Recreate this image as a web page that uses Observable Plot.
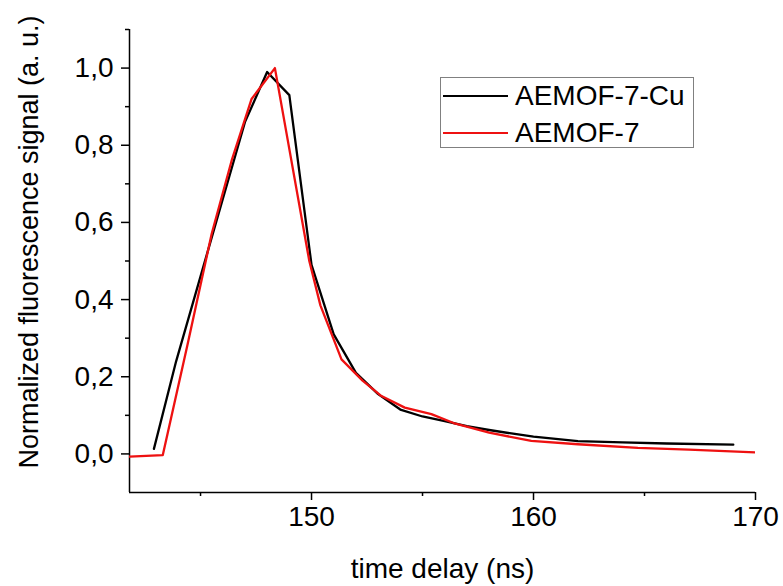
<!DOCTYPE html>
<html><head><meta charset="utf-8">
<script src="https://cdn.jsdelivr.net/npm/d3@7"></script>
<script src="https://cdn.jsdelivr.net/npm/@observablehq/plot@0.6"></script>
<style>
body{margin:0;background:#fff;}
#wrap{position:relative;width:783px;height:586px;}
#legend{position:absolute;left:440px;top:77px;width:254px;height:71px;border:1px solid #808080;box-sizing:border-box;font-family:"Liberation Sans",Arial,sans-serif;font-size:28px;color:#000;background:#fff;}
.row{position:absolute;left:0;height:32px;display:flex;align-items:center;white-space:nowrap;}
.sw{width:65px;height:2px;margin-left:2px;margin-right:7px;}
</style></head>
<body><div id="wrap"></div>
<script>
// Data
const cuTime   = [142.9, 143.9, 145, 146, 147, 148, 149, 150, 151, 152, 153, 154, 155, 156, 157, 158, 159, 160, 161, 162, 164, 166, 169];
const cuSignal = [0.013, 0.24, 0.46, 0.66, 0.86, 0.99, 0.93, 0.49, 0.31, 0.21, 0.155, 0.115, 0.097, 0.085, 0.072, 0.062, 0.053, 0.045, 0.039, 0.033, 0.03, 0.027, 0.024];
const redTime   = [141.8, 143.3, 144.4, 145.5, 146.4, 147.3, 148.35, 149.9, 150.4, 151.35, 152.3, 153.15, 154.2, 155.4, 156.4, 158, 159.9, 162, 164.7, 167, 170];
const redSignal = [-0.007, -0.003, 0.28, 0.57, 0.76, 0.92, 1.0, 0.5, 0.385, 0.245, 0.19, 0.15, 0.12, 0.103, 0.08, 0.055, 0.034, 0.025, 0.0155, 0.011, 0.004];
const seriesNames = ["AEMOF-7-Cu", "AEMOF-7"];
const seriesColors = ["#000000", "#ee1111"];
const xDomain = [141.8, 170];
const yDomain = [-0.1, 1.1];
const xMajor = [150, 160, 170];
const xMinor = [145, 155, 165];
const yMajor = [0, 0.2, 0.4, 0.6, 0.8, 1.0];
const yMinor = [0.1, 0.3, 0.5, 0.7, 0.9, 1.1];
const xLabel = "time delay (ns)";
const yLabel = "Normalized fluorescence signal (a. u.)";

const cuData = cuTime.map((t, i) => ({t, s: cuSignal[i]}));
const redData = redTime.map((t, i) => ({t, s: redSignal[i]}));
const fmt = d => d.toFixed(1).replace(".", ",");

const chart = Plot.plot({
  width: 783, height: 586,
  marginLeft: 129, marginRight: 28, marginTop: 29, marginBottom: 94,
  style: {fontFamily: "'Liberation Sans', Arial, sans-serif", color: "#000", background: "#fff", overflow: "visible"},
  x: {domain: xDomain},
  y: {domain: yDomain},
  marks: [
    Plot.axisY(yMinor, {tickSize: 4, text: null, label: null, strokeWidth: 1.5}),
    Plot.axisY(yMajor, {tickSize: 8, tickPadding: 8, tickFormat: fmt, fontSize: 28, strokeWidth: 1.5, label: null}),
    Plot.text([yLabel], {frameAnchor: "left", rotate: -90, dx: -100, dy: -19, fontSize: 27, textAnchor: "middle", lineAnchor: "middle", fill: "#000"}),
    Plot.axisX(xMinor, {tickSize: 4, text: null, label: null, strokeWidth: 1.5}),
    Plot.axisX(xMajor, {tickSize: 8, tickPadding: 6, fontSize: 28, strokeWidth: 1.5,
      label: xLabel, labelAnchor: "center", labelOffset: 85, labelArrow: "none"}),
    Plot.ruleX([xDomain[0]], {stroke: "#000", strokeWidth: 1.5}),
    Plot.ruleY([yDomain[0]], {stroke: "#000", strokeWidth: 1.5}),
    Plot.line(cuData, {x: "t", y: "s", stroke: seriesColors[0], strokeWidth: 2.3, clip: true}),
    Plot.line(redData, {x: "t", y: "s", stroke: seriesColors[1], strokeWidth: 2.3, clip: true})
  ]
});
const wrap = document.getElementById("wrap");
wrap.appendChild(chart);

const legend = document.createElement("div");
legend.id = "legend";
seriesNames.forEach((name, i) => {
  const row = document.createElement("div");
  row.className = "row";
  row.style.top = (2 + i * 37) + "px";
  const sw = document.createElement("div");
  sw.className = "sw";
  sw.style.background = seriesColors[i];
  const lab = document.createElement("span");
  lab.textContent = name;
  row.appendChild(sw);
  row.appendChild(lab);
  legend.appendChild(row);
});
wrap.appendChild(legend);
</script>
</body></html>
